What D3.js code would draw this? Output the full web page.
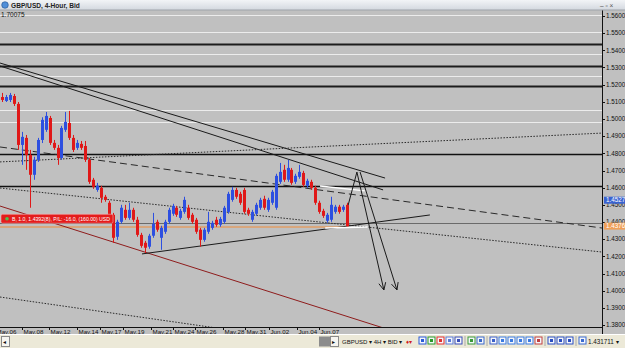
<!DOCTYPE html>
<html>
<head>
<meta charset="utf-8">
<script src="https://cdn.jsdelivr.net/npm/d3@7"></script>
<style>
  html, body { margin: 0; padding: 0; background: #c0c0c0; overflow: hidden; }
  svg { display: block; font-family: "Liberation Sans", Arial, sans-serif; }
</style>
</head>
<body>
<svg id="chart" width="625" height="348"></svg>
<script>
// GBP/USD 4-hour bars, [open, high, low, close]
const bars = [
  [1.5128,1.5152,1.5099,1.5111],[1.5105,1.5140,1.5099,1.5128],[1.5111,1.5152,1.5099,1.5140],
  [1.5134,1.5146,1.5076,1.5088],[1.5088,1.5099,1.4820,1.4849],[1.4849,1.4925,1.4733,1.4896],
  [1.4890,1.4907,1.4704,1.4791],[1.4791,1.4820,1.4483,1.4675],[1.4675,1.4780,1.4646,1.4762],
  [1.4762,1.4890,1.4750,1.4878],[1.4878,1.5010,1.4860,1.4995],[1.4937,1.5041,1.4925,1.5018],
  [1.5006,1.5018,1.4849,1.4861],[1.4861,1.4878,1.4820,1.4832],[1.4832,1.4849,1.4733,1.4773],
  [1.4773,1.4960,1.4762,1.4948],[1.4937,1.5041,1.4925,1.4983],[1.4977,1.5047,1.4878,1.4890],
  [1.4890,1.4907,1.4808,1.4820],[1.4832,1.4878,1.4820,1.4861],[1.4855,1.4872,1.4820,1.4832],
  [1.4843,1.4872,1.4750,1.4762],[1.4762,1.4773,1.4622,1.4634],[1.4646,1.4657,1.4593,1.4605],
  [1.4587,1.4628,1.4576,1.4611],[1.4599,1.4611,1.4512,1.4541],[1.4547,1.4558,1.4518,1.4529],
  [1.4512,1.4524,1.4430,1.4442],[1.4442,1.4453,1.4279,1.4308],[1.4314,1.4413,1.4296,1.4401],
  [1.4401,1.4500,1.4390,1.4483],[1.4471,1.4500,1.4413,1.4424],[1.4424,1.4512,1.4413,1.4471],
  [1.4471,1.4483,1.4401,1.4413],[1.4413,1.4430,1.4314,1.4325],[1.4325,1.4337,1.4250,1.4261],
  [1.4279,1.4290,1.4220,1.4250],[1.4256,1.4331,1.4244,1.4320],[1.4320,1.4453,1.4308,1.4390],
  [1.4401,1.4413,1.4343,1.4355],[1.4308,1.4378,1.4238,1.4366],[1.4343,1.4413,1.4331,1.4401],
  [1.4401,1.4483,1.4390,1.4471],[1.4448,1.4506,1.4436,1.4494],[1.4483,1.4494,1.4430,1.4442],
  [1.4424,1.4477,1.4413,1.4465],[1.4459,1.4547,1.4448,1.4529],[1.4483,1.4500,1.4413,1.4424],
  [1.4442,1.4453,1.4390,1.4401],[1.4413,1.4424,1.4331,1.4343],[1.4355,1.4366,1.4256,1.4296],
  [1.4296,1.4366,1.4285,1.4355],[1.4343,1.4459,1.4331,1.4401],[1.4366,1.4407,1.4355,1.4395],
  [1.4413,1.4430,1.4372,1.4384],[1.4384,1.4430,1.4372,1.4418],[1.4401,1.4494,1.4390,1.4483],
  [1.4459,1.4576,1.4448,1.4564],[1.4529,1.4605,1.4518,1.4587],[1.4587,1.4599,1.4535,1.4547],
  [1.4564,1.4576,1.4500,1.4512],[1.4587,1.4599,1.4448,1.4459],[1.4471,1.4483,1.4436,1.4448],
  [1.4413,1.4471,1.4401,1.4459],[1.4448,1.4512,1.4436,1.4500],[1.4483,1.4541,1.4471,1.4529],
  [1.4535,1.4553,1.4471,1.4483],[1.4471,1.4541,1.4459,1.4529],[1.4512,1.4587,1.4500,1.4576],
  [1.4483,1.4681,1.4471,1.4669],[1.4634,1.4744,1.4622,1.4692],[1.4704,1.4733,1.4634,1.4646],
  [1.4646,1.4762,1.4634,1.4715],[1.4704,1.4715,1.4617,1.4628],[1.4634,1.4681,1.4622,1.4669],
  [1.4663,1.4733,1.4652,1.4692],[1.4686,1.4698,1.4605,1.4616],[1.4611,1.4652,1.4599,1.4640],
  [1.4634,1.4646,1.4587,1.4599],[1.4599,1.4611,1.4500,1.4512],[1.4512,1.4524,1.4448,1.4459],
  [1.4465,1.4477,1.4424,1.4436],[1.4407,1.4453,1.4395,1.4442],[1.4413,1.4547,1.4401,1.4500],
  [1.4459,1.4500,1.4448,1.4489],[1.4489,1.4500,1.4448,1.4459],[1.4471,1.4500,1.4459,1.4489],
  [1.4500,1.4512,1.4370,1.4376]
];

// horizontal levels drawn on the chart
const lightLevels = [1.5606, 1.5507, 1.5379, 1.5251, 1.5053, 1.4983];
const heavyLevels = [1.5437, 1.5309, 1.5192];
const solidLevels = [1.4796, 1.4610];
const orderPrice = 1.43928;
const bidPrice = 1.4376;
const markerPrice = 1.4527;

// trend lines as [[bar index, price], [bar index, price]]
const channelLines = [[[-0.5, 1.5326], [96.6, 1.4656]], [[-0.5, 1.5309], [96.1, 1.4587]]];
const dashedLines = [[[-0.5, 1.4837], [151.3, 1.4365]]];
const dottedLines = [
  [[-0.5, 1.4750], [151.3, 1.4918]],
  [[-0.5, 1.4598], [151.3, 1.4225]],
  [[-0.5, 1.3963], [70, 1.3730]]
];
const redLines = [[[-0.5, 1.4493], [102, 1.3740]]];
const supportLines = [[[35.3, 1.4214], [107.9, 1.4441]]];
const whiteLines = [[[80.2, 1.4610], [91.5, 1.4581]], [[81.5, 1.4365], [92.3, 1.4371]]];
const riseLine = [[87.3, 1.4499], [89.5, 1.4691]];
const arrowLines = [[[89.5, 1.4691], [96.3, 1.4004]], [[90.3, 1.4691], [99.6, 1.4004]]];

// time axis
const timeLabels = ["May.06","May.08","May.12","May.14","May.17","May.19","May.21",
  "May.24","May.26","May.28","May.31","Jun.02","Jun.04","Jun.07"];
const timeIndex = [-1.8, 5.0, 11.9, 18.9, 24.7, 30.5, 37.6, 43.1, 48.7, 55.7, 61.3, 67.3, 74.4, 79.9];
const priceTicks = d3.range(0, 19).map(k => +(1.38 + k * 0.01).toFixed(2));

const svg = d3.select("#chart");
const W = 625, H = 348;
const plot = { left: 0, right: 602, top: 10, bottom: 327 };

const x = d3.scaleLinear().domain([0, bars.length - 1]).range([2, 347]);
const y = d3.scaleLinear().domain([1.38, 1.56]).range([325, 16]);

svg.append("rect").attr("width", W).attr("height", H).attr("fill", "#c0c0c0");

svg.append("defs").append("clipPath").attr("id", "plotclip")
  .append("rect").attr("x", plot.left).attr("y", plot.top)
  .attr("width", plot.right - plot.left).attr("height", plot.bottom - plot.top);

const g = svg.append("g").attr("clip-path", "url(#plotclip)");

const hline = (p, color, w) => g.append("line")
  .attr("x1", plot.left).attr("x2", plot.right)
  .attr("y1", Math.round(y(p)) + 0.5).attr("y2", Math.round(y(p)) + 0.5)
  .attr("stroke", color).attr("stroke-width", w);

lightLevels.forEach(p => hline(p, "#ececec", 1));
heavyLevels.forEach(p => hline(p, "#1c1c1c", 2));
solidLevels.forEach(p => hline(p, "#111", 1.6));
hline(orderPrice, "#6a6a6a", 1.2);

// bid line up to the last bar
g.append("line").attr("x1", plot.left).attr("x2", x(bars.length - 1) + 2)
  .attr("y1", y(bidPrice) + 1).attr("y2", y(bidPrice) + 1)
  .attr("stroke", "#d8a67c").attr("stroke-width", 2);

const seg = (lines, color, w, dash) => g.selectAll(null).data(lines).join("line")
  .attr("x1", d => x(d[0][0])).attr("y1", d => y(d[0][1]))
  .attr("x2", d => x(d[1][0])).attr("y2", d => y(d[1][1]))
  .attr("stroke", color).attr("stroke-width", w)
  .attr("stroke-dasharray", dash || null);

seg(channelLines, "#1a1a1a", 1);
seg(dashedLines, "#2a2a2a", 1, "7,4");
seg(dottedLines, "#2a2a2a", 1, "1.5,1.5");
seg(redLines, "#8e1c1c", 1);
seg(supportLines, "#1a1a1a", 1);

// candles
const bull = "#2d4fe0", bear = "#e01818";
const cg = g.append("g");
cg.selectAll("line").data(bars).join("line")
  .attr("x1", (d, i) => Math.round(x(i)) + 0.5).attr("x2", (d, i) => Math.round(x(i)) + 0.5)
  .attr("y1", d => y(d[1])).attr("y2", d => y(d[2]))
  .attr("stroke", d => d[3] >= d[0] ? bull : bear).attr("stroke-width", 1);
cg.selectAll("rect").data(bars).join("rect")
  .attr("x", (d, i) => Math.round(x(i)) - 1)
  .attr("width", 3)
  .attr("y", d => y(Math.max(d[0], d[3])))
  .attr("height", d => Math.max(1, Math.abs(y(d[0]) - y(d[3]))))
  .attr("fill", d => d[3] >= d[0] ? bull : bear);

seg(whiteLines, "#ffffff", 1.4);
seg([riseLine], "#1a1a1a", 1);
seg(arrowLines, "#1a1a1a", 1);

// open arrow heads at the ends of the projection lines
arrowLines.forEach(d => {
  const x1 = x(d[0][0]), y1 = y(d[0][1]), x2 = x(d[1][0]), y2 = y(d[1][1]);
  const a = Math.atan2(y2 - y1, x2 - x1);
  [-0.45, 0.45].forEach(s => {
    g.append("line").attr("x1", x2).attr("y1", y2)
      .attr("x2", x2 - 8 * Math.cos(a + s)).attr("y2", y2 - 8 * Math.sin(a + s))
      .attr("stroke", "#1a1a1a").attr("stroke-width", 1);
  });
});

// order label
const oy = y(orderPrice);
g.append("rect").attr("x", 1).attr("y", oy - 9).attr("width", 112).attr("height", 9)
  .attr("rx", 1.5).attr("fill", "#e41c1c").attr("stroke", "#f7b0b0").attr("stroke-width", 0.6);
g.append("circle").attr("cx", 7).attr("cy", oy - 4.5).attr("r", 1.8).attr("fill", "#4fc04f");
g.append("text").attr("x", 12).attr("y", oy - 2.2).attr("font-size", 6)
  .attr("textLength", 98).attr("lengthAdjust", "spacingAndGlyphs").attr("fill", "#fff")
  .text("B, 1.0, 1.4392(8), P/L: -16.0, (160.00) USD");

g.append("text").attr("x", 1).attr("y", 17).attr("font-size", 6.5).attr("fill", "#111")
  .text("1.70075");

// axes lines
svg.append("line").attr("x1", plot.right + 0.5).attr("x2", plot.right + 0.5)
  .attr("y1", plot.top).attr("y2", plot.bottom + 7).attr("stroke", "#111");
svg.append("line").attr("x1", 0).attr("x2", plot.right)
  .attr("y1", plot.bottom + 0.5).attr("y2", plot.bottom + 0.5).attr("stroke", "#111");

// price axis
const pa = svg.append("g").attr("font-size", 6.3).attr("fill", "#111");
priceTicks.forEach(p => {
  pa.append("line").attr("x1", plot.right).attr("x2", plot.right + 3)
    .attr("y1", Math.round(y(p)) + 0.5).attr("y2", Math.round(y(p)) + 0.5).attr("stroke", "#111");
  pa.append("text").attr("x", plot.right + 4).attr("y", y(p) + 2.3).text(p.toFixed(4) + "[0]");
});
const priceTag = (p, color, txt) => {
  pa.append("rect").attr("x", plot.right + 2).attr("y", y(p) - 3.5).attr("width", 24).attr("height", 7)
    .attr("fill", color);
  pa.append("text").attr("x", plot.right + 4).attr("y", y(p) + 2.2).attr("fill", "#fff").text(txt);
};
priceTag(markerPrice, "#3a63d0", "1.4527[3]");
priceTag(bidPrice, "#f0a058", "1.4376[9]");

// time axis
const ta = svg.append("g").attr("font-size", 6.2).attr("fill", "#111");
timeLabels.forEach((t, k) => {
  const tx = Math.round(x(timeIndex[k])) + 0.5;
  ta.append("line").attr("x1", tx).attr("x2", tx).attr("y1", plot.bottom).attr("y2", plot.bottom + 3)
    .attr("stroke", "#111");
  ta.append("text").attr("x", tx + 1).attr("y", plot.bottom + 6.5).text(t);
});

// title bar
const grad = svg.append("defs").append("linearGradient").attr("id", "tb")
  .attr("x1", 0).attr("x2", 0).attr("y1", 0).attr("y2", 1);
grad.append("stop").attr("offset", "0%").attr("stop-color", "#f2f4f7");
grad.append("stop").attr("offset", "100%").attr("stop-color", "#d3d8df");
svg.append("rect").attr("width", W).attr("height", 10).attr("fill", "url(#tb)");
svg.append("line").attr("x1", 0).attr("x2", W).attr("y1", 10).attr("y2", 10).attr("stroke", "#9ea3aa");
svg.append("circle").attr("cx", 5).attr("cy", 5).attr("r", 3.3).attr("fill", "#4f8ed8").attr("stroke", "#1e4f8f").attr("stroke-width", 0.6);
svg.append("text").attr("x", 11).attr("y", 7.6).attr("font-size", 6.6).attr("font-weight", "bold")
  .attr("fill", "#222").text("GBP/USD, 4-Hour, Bid");
svg.append("text").attr("x", 600).attr("y", 7.5).attr("font-size", 6.5).attr("fill", "#555").text("–  ▫  ×");

// bottom toolbar
const tb = svg.append("g");
tb.append("rect").attr("y", 334).attr("width", W).attr("height", 14).attr("fill", "#ece9d8");
tb.append("line").attr("x1", 0).attr("x2", W).attr("y1", 334.5).attr("y2", 334.5).attr("stroke", "#fff");
tb.append("rect").attr("x", 1.5).attr("y", 336.5).attr("width", 8).attr("height", 10).attr("fill", "#f6f5f0").attr("stroke", "#8a8a8a");
tb.append("text").attr("x", 3.3).attr("y", 344).attr("font-size", 6).attr("fill", "#111").text("◂");
tb.append("rect").attr("x", 319).attr("y", 336.5).attr("width", 11).attr("height", 10).attr("fill", "#8c8c8c");
tb.append("rect").attr("x", 330.5).attr("y", 336.5).attr("width", 8).attr("height", 10).attr("fill", "#f6f5f0").attr("stroke", "#8a8a8a");
tb.append("text").attr("x", 332.3).attr("y", 344).attr("font-size", 6).attr("fill", "#111").text("▸");
tb.append("text").attr("x", 342).attr("y", 344).attr("font-size", 6).attr("fill", "#111")
  .text("GBPUSD ▾  4H ▾  BID ▾");
tb.append("text").attr("x", 406).attr("y", 344).attr("font-size", 6).attr("fill", "#d02020").text("♦▾");
const icons = ["#2a5bd7", "#2a9a2a", "#e03030", "#5a7ad8", "#3a4fb8", null, "#3a9a3a", "#3a68c8", null,
  "#3a5fc8", "#3a7ae0", "#3a7ae0", "#3a7ae0", "#3a7ae0", "#c04040", null, "#2a4fc0", "#2a4fc0", "#2a4fc0", null, "#3a6ad0"];
let ix = 419;
icons.forEach(c => {
  if (!c) { tb.append("line").attr("x1", ix + 1).attr("x2", ix + 1).attr("y1", 336).attr("y2", 346).attr("stroke", "#aaa"); ix += 4; return; }
  tb.append("rect").attr("x", ix).attr("y", 337).attr("width", 7).attr("height", 7)
    .attr("fill", "#f4f6fb").attr("stroke", c).attr("stroke-width", 1);
  tb.append("rect").attr("x", ix + 2).attr("y", 339).attr("width", 3).attr("height", 3).attr("fill", c);
  ix += 9;
});
tb.append("text").attr("x", 588).attr("y", 344).attr("font-size", 6.3).attr("fill", "#111").text("1.431711 ▾");
</script>
</body>
</html>
